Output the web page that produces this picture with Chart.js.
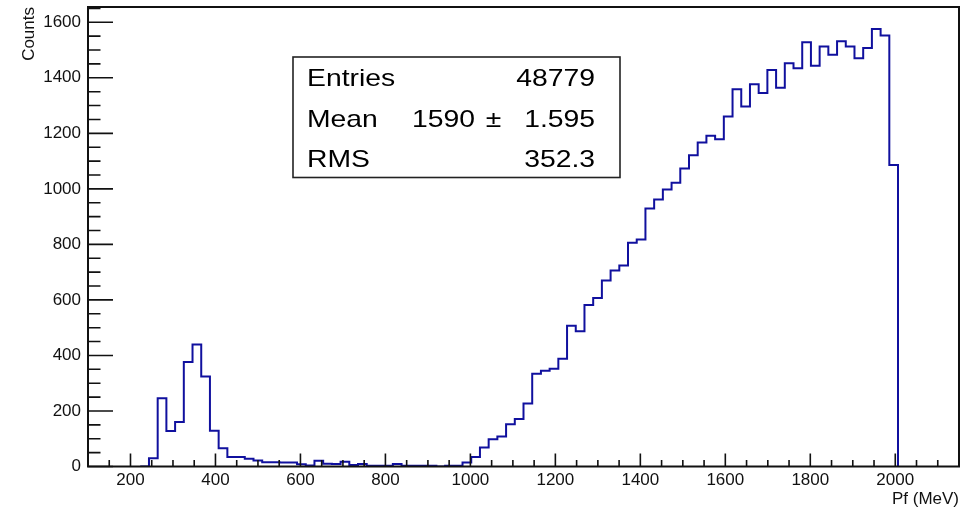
<!DOCTYPE html>
<html><head><meta charset="utf-8">
<script src="https://cdn.jsdelivr.net/npm/chart.js@4/dist/chart.umd.min.js"></script>
<style>html,body{margin:0;padding:0;background:#fff;}canvas{display:block;}</style>
</head><body>
<canvas id="c" width="971" height="514"></canvas>
<script>
// ---- histogram definition (100 bins, 100 .. 2150 MeV) ----
const xMin = 100;
const xMax = 2150;
const nBins = 100;
const counts = [
  0, 0, 0, 0, 0, 0, 0, 30, 246, 128,
  160, 376, 439, 324, 129, 66, 34, 34, 28, 22,
  15, 15, 14, 14, 8, 4, 21, 10, 9, 17,
  5, 9, 3, 3, 3, 9, 3, 3, 3, 3,
  0, 3, 3, 14, 34, 68, 98, 108, 152, 171,
  227, 334, 345, 352, 388, 507, 487, 582, 607, 670,
  706, 724, 806, 818, 929, 962, 998, 1022, 1073, 1121,
  1167, 1191, 1179, 1261, 1359, 1297, 1377, 1345, 1428, 1364,
  1452, 1434, 1528, 1443, 1513, 1483, 1532, 1513, 1470, 1507,
  1576, 1552, 1086, 0, 0, 0, 0, 0, 0, 0
];
const yMax = 1655;

// ---- axis ticks ----
const xTickValues = [200, 400, 600, 800, 1000, 1200, 1400, 1600, 1800, 2000];
const xMinorValues = [150, 250, 300, 350, 450, 500, 550, 650, 700, 750, 850, 900, 950, 1050, 1100, 1150, 1250, 1300, 1350, 1450, 1500, 1550, 1650, 1700, 1750, 1850, 1900, 1950, 2050, 2100];
const yTickValues = [0, 200, 400, 600, 800, 1000, 1200, 1400, 1600];
const yMinorValues = [50, 100, 150, 250, 300, 350, 450, 500, 550, 650, 700, 750, 850, 900, 950, 1050, 1100, 1150, 1250, 1300, 1350, 1450, 1500, 1550, 1650];

const xTitle = 'Pf (MeV)';
const yTitle = 'Counts';

// ---- statistics box text ----
const statNames = ['Entries', 'Mean', 'RMS'];
const statEntries = '48779';
const statMean = '1590';
const statMeanErr = '1.595';
const statRMS = '352.3';

const binWidth = (xMax - xMin) / nBins;
const points = counts.map((c, k) => ({x: xMin + k * binWidth, y: c}));
points.push({x: xMax, y: counts[counts.length - 1]});

const FONT = '"Liberation Sans", Arial, Helvetica, sans-serif';
const tickFont = {family: FONT, size: 17};

const framePlugin = {
  id: 'frame',
  afterDatasetsDraw(chart) {
    const ctx = chart.ctx;
    const {left, right, top, bottom} = chart.chartArea;
    const xs = chart.scales.x, ys = chart.scales.y;
    ctx.save();
    ctx.strokeStyle = '#111';
    ctx.lineWidth = 1.6;
    ctx.beginPath();
    yTickValues.forEach(v => { const y = ys.getPixelForValue(v); ctx.moveTo(left, y); ctx.lineTo(left + 25, y); });
    yMinorValues.forEach(v => { const y = ys.getPixelForValue(v); ctx.moveTo(left, y); ctx.lineTo(left + 12.5, y); });
    xTickValues.forEach(v => { const x = xs.getPixelForValue(v); ctx.moveTo(x, bottom); ctx.lineTo(x, bottom - 13); });
    xMinorValues.forEach(v => { const x = xs.getPixelForValue(v); ctx.moveTo(x, bottom); ctx.lineTo(x, bottom - 6.5); });
    ctx.stroke();
    ctx.lineWidth = 2;
    ctx.strokeStyle = '#111';
    ctx.strokeRect(left, top, right - left, bottom - top);
    ctx.restore();
  }
};

const statsPlugin = {
  id: 'stats',
  afterDraw(chart) {
    const ctx = chart.ctx;
    const bx = 293, by = 57, bw = 327, bh = 120.5;
    ctx.save();
    ctx.fillStyle = '#fff';
    ctx.fillRect(bx, by, bw, bh);
    ctx.strokeStyle = '#222';
    ctx.lineWidth = 1.6;
    ctx.strokeRect(bx, by, bw, bh);
    ctx.fillStyle = '#000';
    ctx.font = '24px ' + FONT;
    ctx.textBaseline = 'alphabetic';
    const sx = 1.18;
    function txt(s, x, y, align) {
      ctx.save();
      ctx.translate(x, y);
      ctx.scale(sx, 1);
      ctx.textAlign = align;
      ctx.fillText(s, 0, 0);
      ctx.restore();
    }
    const rows = [86, 126.5, 166.5];
    statNames.forEach((n, i) => txt(n, 307, rows[i], 'left'));
    txt(statEntries, 595, rows[0], 'right');
    txt(statMean, 475, rows[1], 'right');
    txt('\u00b1', 493.5, rows[1], 'center');
    txt(statMeanErr, 595, rows[1], 'right');
    txt(statRMS, 595, rows[2], 'right');
    ctx.restore();
  }
};

function noPad(s) { s.paddingTop = 0; s.paddingBottom = 0; s.paddingLeft = 0; s.paddingRight = 0; }

new Chart(document.getElementById('c'), {
  type: 'line',
  data: {
    datasets: [{
      data: points,
      stepped: 'before',
      borderColor: '#10109e',
      borderWidth: 2,
      pointRadius: 0,
      fill: false,
      tension: 0,
      segment: {
        borderColor: c => (c.p0.parsed.y === 0 && c.p1.parsed.y === 0) ? 'rgba(0,0,0,0)' : undefined
      }
    }]
  },
  options: {
    responsive: false,
    animation: false,
    devicePixelRatio: 1,
    layout: {padding: {top: 7, right: 12, left: 0, bottom: 0}},
    plugins: {legend: {display: false}, tooltip: {enabled: false}},
    scales: {
      x: {
        type: 'linear',
        min: xMin,
        max: xMax,
        afterBuildTicks: s => { s.ticks = xTickValues.map(v => ({value: v})); },
        afterFit: s => { s.height = 47.5; noPad(s); },
        grid: {display: false, drawTicks: false},
        border: {display: false},
        ticks: {font: tickFont, color: '#111', padding: 4, maxRotation: 0, autoSkip: false, callback: v => String(v)},
        title: {display: true, text: xTitle, align: 'end', font: tickFont, color: '#111', padding: {top: 0, bottom: 4}}
      },
      y: {
        type: 'linear',
        min: 0,
        max: yMax,
        afterBuildTicks: s => { s.ticks = yTickValues.map(v => ({value: v})); },
        afterFit: s => { s.width = 88; noPad(s); },
        grid: {display: false, drawTicks: false},
        border: {display: false},
        ticks: {font: tickFont, color: '#111', padding: 7, autoSkip: false, callback: v => String(v)},
        title: {display: true, text: yTitle, align: 'end', font: tickFont, color: '#111', padding: {top: 19, bottom: 0}}
      }
    }
  },
  plugins: [framePlugin, statsPlugin]
});
</script>
</body></html>
